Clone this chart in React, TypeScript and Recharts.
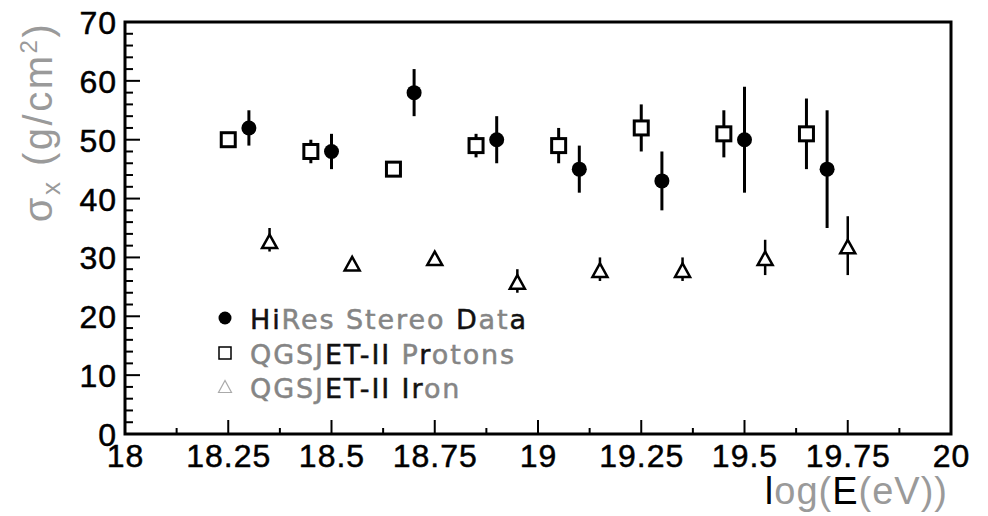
import React from 'react';
import { ScatterChart, Scatter, XAxis, YAxis, ErrorBar, ReferenceArea, Legend } from 'recharts';

// ---- data ----
const hiresX = [18.3, 18.5, 18.7, 18.9, 19.1, 19.3, 19.5, 19.7];
const hiresY = [52, 48, 58, 50, 45, 43, 50, 45];
const hiresLow = [49, 45, 54, 46, 41, 38, 41, 35];
const hiresHigh = [55, 51, 62, 54, 49, 48, 59, 55];

const protonX = [18.25, 18.45, 18.65, 18.85, 19.05, 19.25, 19.45, 19.65];
const protonY = [50, 48, 45, 49, 49, 52, 51, 51];
const protonLow = [50, 46, 45, 47, 46, 48, 47, 45];
const protonHigh = [50, 50, 45, 51, 52, 56, 55, 57];

const ironX = [18.35, 18.55, 18.75, 18.95, 19.15, 19.35, 19.55, 19.75];
const ironY = [32.7, 28.9, 29.8, 25.8, 27.8, 27.8, 29.8, 31.8];
const ironLow = [31, 28.9, 29.8, 24, 26, 26, 27, 27];
const ironHigh = [35, 28.9, 29.8, 28, 30, 30, 33, 37];

const seriesNames = ['HiRes Stereo Data', 'QGSJET-II Protons', 'QGSJET-II Iron'];

const xTicks = [18, 18.125, 18.25, 18.375, 18.5, 18.625, 18.75, 18.875, 19, 19.125, 19.25, 19.375, 19.5, 19.625, 19.75, 19.875, 20];
const xMajorTicks = [18, 18.25, 18.5, 18.75, 19, 19.25, 19.5, 19.75, 20];
const xTickLabels = ['18', '18.25', '18.5', '18.75', '19', '19.25', '19.5', '19.75', '20'];

const yTicks = [0, 2, 4, 6, 8, 10, 12, 14, 16, 18, 20, 22, 24, 26, 28, 30, 32, 34, 36, 38, 40, 42, 44, 46, 48, 50, 52, 54, 56, 58, 60, 62, 64, 66, 68, 70];
const yMajorTicks = [0, 10, 20, 30, 40, 50, 60, 70];
const yTickLabels = ['0', '10', '20', '30', '40', '50', '60', '70'];

// ---- helpers ----
const build = (xs: number[], ys: number[], lo: number[], hi: number[]) =>
  xs.map((x, i) => ({ x, y: ys[i], err: [ys[i] - lo[i], hi[i] - ys[i]] }));

const hiresData = build(hiresX, hiresY, hiresLow, hiresHigh);
const protonData = build(protonX, protonY, protonLow, protonHigh);
const ironData = build(ironX, ironY, ironLow, ironHigh);

const FONT = '"Liberation Sans", Arial, sans-serif';
const GRAY = '#9a9a9a';
const LGRAY = '#858585';
const DARK = '#111';

const CircleShape = (p: any) => <circle cx={p.cx} cy={p.cy} r={7.5} fill="#000" />;
const SquareShape = (p: any) => (
  <rect x={p.cx - 7} y={p.cy - 7} width={14} height={14} fill="#fff" stroke="#000" strokeWidth={3} />
);
const TriangleShape = (p: any) => (
  <polygon
    points={`${p.cx},${p.cy - 7} ${p.cx - 7.5},${p.cy + 6.5} ${p.cx + 7.5},${p.cy + 6.5}`}
    fill="#fff"
    stroke="#000"
    strokeWidth={2.5}
    strokeLinejoin="miter"
  />
);

const XTick = (props: any) => {
  const { x, y, payload } = props;
  const idx = xMajorTicks.indexOf(payload.value);
  const major = idx >= 0;
  return (
    <g>
      <line x1={x} x2={x} y1={y} y2={y - (major ? 14 : 6)} stroke="#000" strokeWidth={2} />
      {major && (
        <text
          x={x + 0.5}
          y={y + 33}
          textAnchor="middle"
          fontFamily={FONT}
          fontSize={32}
          letterSpacing={1}
          fill="#000"
          stroke="#000"
          strokeWidth={0.5}
        >
          {xTickLabels[idx]}
        </text>
      )}
    </g>
  );
};

const YTick = (props: any) => {
  const { x, y, payload } = props;
  const idx = yMajorTicks.indexOf(payload.value);
  const major = idx >= 0;
  return (
    <g>
      <line x1={x} x2={x + (major ? 15 : 8)} y1={y} y2={y} stroke="#000" strokeWidth={2} />
      {major && (
        <text
          x={x - 8}
          y={y + 12}
          textAnchor="end"
          fontFamily={FONT}
          fontSize={32}
          letterSpacing={1}
          fill="#000"
          stroke="#000"
          strokeWidth={0.5}
        >
          {yTickLabels[idx]}
        </text>
      )}
    </g>
  );
};

const XTitle = (props: any) => {
  const vb = props.viewBox || { x: 125, y: 434, width: 826, height: 82 };
  return (
    <text x={vb.x + vb.width - 3} y={vb.y + 70} textAnchor="end" fontFamily={FONT} fontSize={38} letterSpacing={1}>
      <tspan fill="#000">l</tspan>
      <tspan fill={GRAY}>og(</tspan>
      <tspan fill="#000">E</tspan>
      <tspan fill={GRAY}>(eV))</tspan>
    </text>
  );
};

const YTitle = () => {
  const cx = 52;
  const cy = 122;
  return (
    <text
      x={cx}
      y={cy}
      transform={`rotate(-90, ${cx}, ${cy})`}
      textAnchor="middle"
      fontFamily={FONT}
      fontSize={40}
      letterSpacing={2.5}
      fill={GRAY}
    >
      σ
      <tspan fontSize={26} dy={8}>x</tspan>
      <tspan fontSize={40} dy={-8}> (g/cm</tspan>
      <tspan fontSize={24} dy={-15}>2</tspan>
      <tspan fontSize={40} dy={15}>)</tspan>
    </text>
  );
};

const legendSegments: { t: string; c: string }[][] = [
  [
    { t: 'Hi', c: DARK },
    { t: 'Res Stereo ', c: LGRAY },
    { t: 'D', c: DARK },
    { t: 'at', c: LGRAY },
    { t: 'a', c: DARK },
  ],
  [
    { t: 'QGSJ', c: LGRAY },
    { t: 'ET-II', c: DARK },
    { t: ' P', c: LGRAY },
    { t: 'r', c: DARK },
    { t: 'otons', c: LGRAY },
  ],
  [
    { t: 'QGSJ', c: LGRAY },
    { t: 'ET-II Ir', c: DARK },
    { t: 'on', c: LGRAY },
  ],
];

const LegendContent = (props: any) => {
  const payload = props.payload || [];
  const names = payload.length ? payload.map((p: any) => p.value) : seriesNames;
  const rowY = [23, 58, 92];
  return (
    <svg width={380} height={120} style={{ overflow: 'visible' }}>
      {names.map((name: string, i: number) => {
        const k = seriesNames.indexOf(name) >= 0 ? seriesNames.indexOf(name) : i;
        const cy = rowY[k];
        let icon;
        if (k === 0) icon = <circle cx={26} cy={cy} r={6.5} fill="#000" />;
        else if (k === 1) icon = <rect x={20} y={cy - 6} width={12} height={12} fill="#fff" stroke="#000" strokeWidth={1.5} />;
        else
          icon = (
            <polygon points={`26,${cy - 6.5} 19.5,${cy + 5.5} 32.5,${cy + 5.5}`} fill="#fff" stroke="#aaa" strokeWidth={1.2} />
          );
        return (
          <g key={name}>
            {icon}
            <text
              x={51}
              y={cy + 10.5}
              fontFamily='"DejaVu Sans", sans-serif'
              fontSize={27}
              letterSpacing={1.9}
              strokeWidth={0.5}
            >
              {legendSegments[k].map((s, j) => (
                <tspan key={j} fill={s.c} stroke={s.c}>
                  {s.t}
                </tspan>
              ))}
            </text>
          </g>
        );
      })}
    </svg>
  );
};

export default function App() {
  return (
    <div style={{ position: 'absolute', left: 0, top: 0, background: '#fff' }}>
      <ScatterChart width={988} height={516} margin={{ top: 22, right: 37, bottom: 0, left: 0 }}>
        <XAxis
          type="number"
          dataKey="x"
          domain={[18, 20]}
          ticks={xTicks}
          interval={0}
          allowDataOverflow
          axisLine={false}
          tickLine={false}
          tickSize={0}
          tickMargin={0}
          tick={<XTick />}
          height={82}
          label={{ content: <XTitle /> } as any}
        />
        <YAxis
          type="number"
          dataKey="y"
          domain={[0, 70]}
          ticks={yTicks}
          interval={0}
          allowDataOverflow
          axisLine={false}
          tickLine={false}
          tickSize={0}
          tickMargin={0}
          tick={<YTick />}
          width={125}
          label={{ content: <YTitle /> } as any}
        />
        <ReferenceArea x1={18} x2={20} y1={0} y2={70} fill="none" fillOpacity={0} stroke="#000" strokeWidth={3} strokeOpacity={1} />
        <Legend
          layout="horizontal"
          verticalAlign="middle"
          align="center"
          wrapperStyle={{ position: 'absolute', left: 199, top: 295, width: 380, height: 120, margin: 0 }}
          content={<LegendContent />}
        />
        <Scatter name={seriesNames[2]} data={ironData} shape={TriangleShape} isAnimationActive={false}>
          <ErrorBar dataKey="err" direction="y" width={0} stroke="#000" strokeWidth={2.5} />
        </Scatter>
        <Scatter name={seriesNames[1]} data={protonData} shape={SquareShape} isAnimationActive={false}>
          <ErrorBar dataKey="err" direction="y" width={0} stroke="#000" strokeWidth={3} />
        </Scatter>
        <Scatter name={seriesNames[0]} data={hiresData} shape={CircleShape} isAnimationActive={false}>
          <ErrorBar dataKey="err" direction="y" width={0} stroke="#000" strokeWidth={3} />
        </Scatter>
      </ScatterChart>
    </div>
  );
}
